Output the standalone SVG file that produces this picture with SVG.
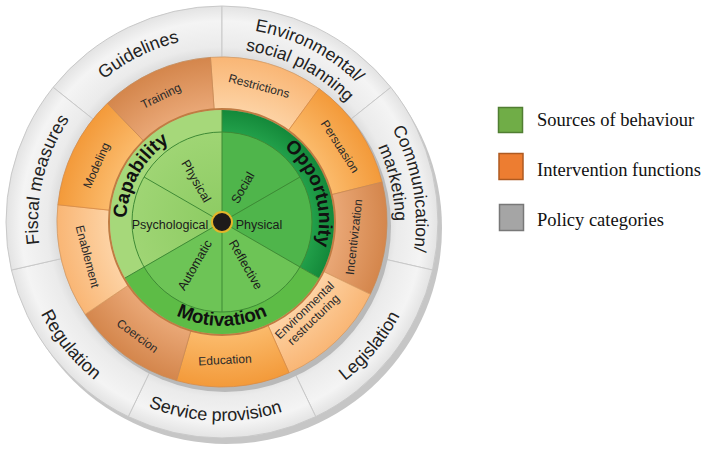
<svg xmlns="http://www.w3.org/2000/svg" width="712" height="450" viewBox="0 0 712 450">
<style>
.pol{font-family:"Liberation Sans",Arial,sans-serif;font-size:18px;fill:#222}
.pol2{font-family:"Liberation Sans",Arial,sans-serif;font-size:17.5px;fill:#222}
.ifn{font-family:"Liberation Sans",Arial,sans-serif;font-size:12px;fill:#2a2a2a}
.src{font-family:"Liberation Sans",Arial,sans-serif;font-size:19px;font-weight:bold;fill:#111}
.sub{font-family:"Liberation Sans",Arial,sans-serif;font-size:12.5px;fill:#1a1a1a}
.leg{font-family:"Liberation Serif","Times New Roman",serif;font-size:18.5px;fill:#111}
.gseg{fill:url(#gGray);stroke:#c9c9c9;stroke-width:1}
.odark{fill:url(#gDark);stroke:#c98a55;stroke-width:0.8}
.olight{fill:url(#gLight);stroke:#d99a60;stroke-width:0.8}
.omed{fill:url(#gMed);stroke:#d98c45;stroke-width:0.8}
.div{stroke:#3f8a35;stroke-width:1;fill:none}
</style>
<defs>
<radialGradient id="gGray" gradientUnits="userSpaceOnUse" cx="222" cy="222" r="216">
<stop offset="0.76" stop-color="#dcdcdc"/>
<stop offset="0.81" stop-color="#ebebeb"/>
<stop offset="0.93" stop-color="#f4f4f4"/>
<stop offset="1" stop-color="#e3e3e3"/>
</radialGradient>
<radialGradient id="gDark" gradientUnits="userSpaceOnUse" cx="222" cy="222" r="165">
<stop offset="0.68" stop-color="#eaa877"/>
<stop offset="1" stop-color="#d4864c"/>
</radialGradient>
<radialGradient id="gLight" gradientUnits="userSpaceOnUse" cx="222" cy="222" r="165">
<stop offset="0.68" stop-color="#fdd3a5"/>
<stop offset="1" stop-color="#f9b675"/>
</radialGradient>
<radialGradient id="gMed" gradientUnits="userSpaceOnUse" cx="222" cy="222" r="165">
<stop offset="0.68" stop-color="#fbbb6c"/>
<stop offset="1" stop-color="#f39a3a"/>
</radialGradient>
<radialGradient id="gOppBand" gradientUnits="userSpaceOnUse" cx="222" cy="222" r="112">
<stop offset="0.8" stop-color="#22a04a"/>
<stop offset="1" stop-color="#14893a"/>
</radialGradient>
<radialGradient id="gCapIn" gradientUnits="userSpaceOnUse" cx="222" cy="222" r="90">
<stop offset="0" stop-color="#8ccb62"/>
<stop offset="1" stop-color="#9fd574"/>
</radialGradient>
<path id="pGuid" d="M37.35,210.71 A185,185 0 0 1 324.11,67.73"/>
<path id="pEnv1" d="M116.34,59.3 A194,194 0 0 1 415.73,211.85"/>
<path id="pEnv2" d="M127.78,76.91 A173,173 0 0 1 394.76,212.95"/>
<path id="pCom1" d="M288.35,39.7 A194,194 0 0 1 346.7,370.61"/>
<path id="pCom2" d="M272.58,56.56 A173,173 0 0 1 339.99,348.52"/>
<path id="pFis" d="M95.34,355.47 A184,184 0 0 1 169.74,45.58"/>
<path id="pLeg" d="M187.1,419.95 A201,201 0 0 0 410.88,153.25"/>
<path id="pSer" d="M46.29,315.42 A199,199 0 0 0 390.76,327.45"/>
<path id="pReg" d="M32.48,149.25 A203,203 0 0 0 253.76,422.5"/>
<path id="pCap" d="M139.22,270.05 A95.5,95.5 0 0 1 220.33,126.51"/>
<path id="pOpp" d="M242.17,127.12 A97,97 0 0 1 294.08,286.91"/>
<path id="pMot" d="M131.93,274 A104,104 0 0 0 312.07,274"/>
</defs>

<!-- shadows -->
<circle cx="226" cy="228" r="216" fill="#c6c6c6"/>

<!-- policy categories -->
<g id="policy-guidelines">
<path class="gseg" d="M53.13,87.32 A216,216 0 0 1 222,6 L222,57 A165,165 0 0 0 93,119.12 Z"/>
<text class="pol"><textPath href="#pGuid" startOffset="50%" text-anchor="middle">Guidelines</textPath></text>
</g>
<g id="policy-env-social-planning">
<path class="gseg" d="M222,6 A216,216 0 0 1 390.87,87.32 L351,119.12 A165,165 0 0 0 222,57 Z"/>
<text class="pol2"><textPath href="#pEnv1" startOffset="50%" text-anchor="middle">Environmental/</textPath></text>
<text class="pol2"><textPath href="#pEnv2" startOffset="50%" text-anchor="middle">social planning</textPath></text>
</g>
<g id="policy-communication-marketing">
<path class="gseg" d="M390.87,87.32 A216,216 0 0 1 432.58,270.06 L382.86,258.71 A165,165 0 0 0 351,119.12 Z"/>
<text class="pol2"><textPath href="#pCom1" startOffset="50%" text-anchor="middle">Communication/</textPath></text>
<text class="pol2"><textPath href="#pCom2" startOffset="50%" text-anchor="middle">marketing</textPath></text>
</g>
<g id="policy-legislation">
<path class="gseg" d="M432.58,270.06 A216,216 0 0 1 315.72,416.62 L293.59,370.67 A165,165 0 0 0 382.86,258.71 Z"/>
<text class="pol"><textPath href="#pLeg" startOffset="50%" text-anchor="middle">Legislation</textPath></text>
</g>
<g id="policy-service-provision">
<path class="gseg" d="M315.72,416.62 A216,216 0 0 1 128.28,416.62 L150.41,370.67 A165,165 0 0 0 293.59,370.67 Z"/>
<text class="pol"><textPath href="#pSer" startOffset="50%" text-anchor="middle">Service provision</textPath></text>
</g>
<g id="policy-regulation">
<path class="gseg" d="M128.28,416.62 A216,216 0 0 1 11.42,270.06 L61.14,258.71 A165,165 0 0 0 150.41,370.67 Z"/>
<text class="pol"><textPath href="#pReg" startOffset="50%" text-anchor="middle">Regulation</textPath></text>
</g>
<g id="policy-fiscal-measures">
<path class="gseg" d="M11.42,270.06 A216,216 0 0 1 53.13,87.32 L93,119.12 A165,165 0 0 0 61.14,258.71 Z"/>
<text class="pol"><textPath href="#pFis" startOffset="50%" text-anchor="middle">Fiscal measures</textPath></text>
</g>

<!-- orange ring shadow -->
<circle cx="225" cy="226" r="166" fill="#b9b9b9"/>

<!-- intervention functions -->
<g id="if-restrictions">
<path class="olight" d="M210.49,57.4 A165,165 0 0 1 318.99,88.51 L287.83,131.39 A112,112 0 0 0 214.19,110.27 Z"/>
<text class="ifn" text-anchor="middle" transform="translate(259,86) rotate(15)" y="4">Restrictions</text>
</g>
<g id="if-persuasion">
<path class="omed" d="M318.99,88.51 A165,165 0 0 1 382.1,182.08 L330.67,194.9 A112,112 0 0 0 287.83,131.39 Z"/>
<text class="ifn" text-anchor="middle" transform="translate(340,146.5) rotate(57)" y="4">Persuasion</text>
</g>
<g id="if-incentivization">
<path class="odark" d="M382.1,182.08 A165,165 0 0 1 370.3,294.33 L322.66,271.1 A112,112 0 0 0 330.67,194.9 Z"/>
<text class="ifn" text-anchor="middle" transform="translate(354,237) rotate(-83.5)" y="4">Incentivization</text>
</g>
<g id="if-environmental-restructuring">
<path class="olight" d="M370.3,294.33 A165,165 0 0 1 289.11,372.74 L267.55,324.32 A112,112 0 0 0 322.66,271.1 Z"/>
<g transform="translate(309,315) rotate(-44)">
<text class="ifn" text-anchor="middle" y="-2.5">Environmental</text>
<text class="ifn" text-anchor="middle" y="10.5">restructuring</text>
</g>
</g>
<g id="if-education">
<path class="omed" d="M289.11,372.74 A165,165 0 0 1 176.52,380.61 L191.13,329.66 A112,112 0 0 0 267.55,324.32 Z"/>
<text class="ifn" text-anchor="middle" transform="translate(225,360) rotate(-3)" y="4">Education</text>
</g>
<g id="if-coercion">
<path class="odark" d="M176.52,380.61 A165,165 0 0 1 85.21,314.27 L129.15,284.63 A112,112 0 0 0 191.13,329.66 Z"/>
<text class="ifn" text-anchor="middle" transform="translate(137.5,336) rotate(36.5)" y="4">Coercion</text>
</g>
<g id="if-enablement">
<path class="olight" d="M85.21,314.27 A165,165 0 0 1 57.9,204.75 L110.61,210.29 A112,112 0 0 0 129.15,284.63 Z"/>
<text class="ifn" text-anchor="middle" transform="translate(87.5,256.5) rotate(75.5)" y="4">Enablement</text>
</g>
<g id="if-modeling">
<path class="omed" d="M57.9,204.75 A165,165 0 0 1 107.38,103.31 L144.2,141.43 A112,112 0 0 0 110.61,210.29 Z"/>
<text class="ifn" text-anchor="middle" transform="translate(96.5,165.5) rotate(-66)" y="4">Modeling</text>
</g>
<g id="if-training">
<path class="odark" d="M107.38,103.31 A165,165 0 0 1 210.49,57.4 L214.19,110.27 A112,112 0 0 0 144.2,141.43 Z"/>
<text class="ifn" text-anchor="middle" transform="translate(161,96) rotate(-26)" y="4">Training</text>
</g>

<circle cx="222" cy="222" r="113" fill="none" stroke="#c07c43" stroke-width="2"/>

<!-- sources of behaviour -->
<g id="src-capability">
<path d="M222,222 L125.01,278 A112,112 0 0 1 222,110 Z" fill="#a6d87a"/>
<g id="sub-cap-psychological">
<path d="M222,222 L144.06,267 A90,90 0 0 1 144.06,177 Z" fill="url(#gCapIn)"/>
<text class="sub" x="170" y="229" text-anchor="middle">Psychological</text>
</g>
<g id="sub-cap-physical">
<path d="M222,222 L144.06,177 A90,90 0 0 1 222,132 Z" fill="url(#gCapIn)"/>
<text class="sub" text-anchor="middle" transform="translate(196.5,181) rotate(60)" y="4.5">Physical</text>
</g>
<text class="src"><textPath href="#pCap" startOffset="50%" text-anchor="middle">Capability</textPath></text>
</g>
<g id="src-opportunity">
<path d="M222,222 L222,110 A112,112 0 0 1 318.99,278 Z" fill="url(#gOppBand)"/>
<g id="sub-opp-social">
<path d="M222,222 L222,132 A90,90 0 0 1 299.94,177 Z" fill="#4fb54b"/>
<text class="sub" text-anchor="middle" transform="translate(242.5,187.5) rotate(-60)" y="4.5">Social</text>
</g>
<g id="sub-opp-physical">
<path d="M222,222 L299.94,177 A90,90 0 0 1 299.94,267 Z" fill="#4fb54b"/>
<text class="sub" x="259" y="229" text-anchor="middle">Physical</text>
</g>
<text class="src"><textPath href="#pOpp" startOffset="50%" text-anchor="middle">Opportunity</textPath></text>
</g>
<g id="src-motivation">
<path d="M222,222 L318.99,278 A112,112 0 0 1 125.01,278 Z" fill="#5dbc46"/>
<g id="sub-mot-reflective">
<path d="M222,222 L299.94,267 A90,90 0 0 1 222,312 Z" fill="#6dc456"/>
<text class="sub" text-anchor="middle" transform="translate(246,264.5) rotate(60)" y="4.5">Reflective</text>
</g>
<g id="sub-mot-automatic">
<path d="M222,222 L222,312 A90,90 0 0 1 144.06,267 Z" fill="#6dc456"/>
<text class="sub" text-anchor="middle" transform="translate(194.5,265) rotate(-60)" y="4.5">Automatic</text>
</g>
<text class="src"><textPath href="#pMot" startOffset="50%" text-anchor="middle">Motivation</textPath></text>
</g>

<g id="dividers">
<circle class="div" cx="222" cy="222" r="90"/>
<path class="div" d="M222,222 L222,110 M222,222 L125.01,278 M222,222 L318.99,278 M222,222 L144.06,177 M222,222 L299.94,177 M222,222 L222,312"/>
</g>

<g id="center">
<circle cx="222" cy="222" r="10" fill="#1e1a1a" stroke="#e3b52a" stroke-width="2"/>
</g>

<!-- legend -->
<g id="legend-sources">
<rect x="498.5" y="107.5" width="24" height="25" fill="#70ad47" stroke="#507e32" stroke-width="1.5"/>
<text class="leg" x="537" y="126">Sources of behaviour</text>
</g>
<g id="legend-interventions">
<rect x="499" y="153.5" width="24" height="26" fill="#ed7d31" stroke="#ae5a21" stroke-width="1.5"/>
<text class="leg" x="537" y="176">Intervention functions</text>
</g>
<g id="legend-policy">
<rect x="499.5" y="204.5" width="24" height="26" fill="#a5a5a5" stroke="#787878" stroke-width="1.5"/>
<text class="leg" x="537" y="226">Policy categories</text>
</g>
</svg>
